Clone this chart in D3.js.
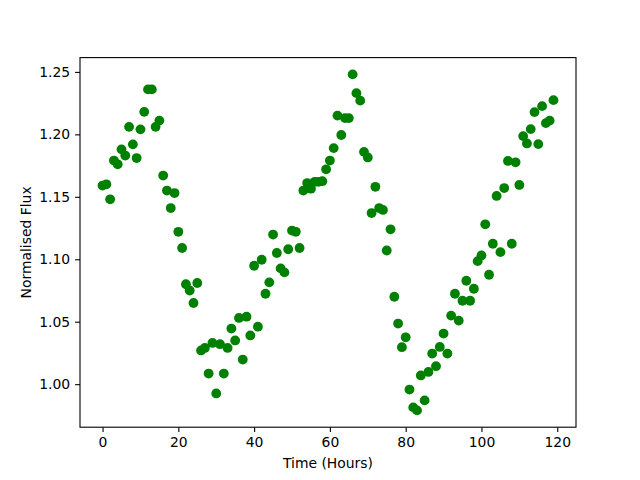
<html>
    <head>
        <title> Normalised Flux </title>
        <script src="https://d3js.org/d3.v7.min.js"></script>
        <style type="text/css">
            body { margin: 0; background: #fff; }
            .axis path,
            .axis line {
                fill: none;
                stroke: black;
                stroke-width: 1.1px;
            }
            .axis text {
                font-family: "DejaVu Sans", sans-serif;
                font-size: 13.9px;
                fill: black;
            }
            .dot {
                fill: #008000;
            }
            .label {
                font-family: "DejaVu Sans", sans-serif;
                font-size: 13.9px;
                fill: black;
            }
        </style>
    </head>
    <body>
        <script type="text/javascript">
            // time in hours (one reading per hour)
            var hours = d3.range(0, 120);
            var flux = [
                1.159, 1.160, 1.148, 1.179, 1.176, 1.188, 1.183, 1.206, 1.192, 1.181,
                1.204, 1.218, 1.236, 1.236, 1.206, 1.211, 1.167, 1.155, 1.141, 1.153,
                1.122, 1.109, 1.080, 1.075, 1.065, 1.081, 1.027, 1.029, 1.0085, 1.033,
                0.9926, 1.032, 1.0085, 1.029, 1.0445, 1.035, 1.053, 1.0197, 1.054, 1.039,
                1.0948, 1.046, 1.0996, 1.0724, 1.0815, 1.1198, 1.105, 1.0927, 1.0895, 1.108,
                1.123, 1.122, 1.109, 1.155, 1.161, 1.1565, 1.162, 1.162, 1.1625, 1.172,
                1.179, 1.189, 1.215, 1.1995, 1.213, 1.213, 1.248, 1.233, 1.227, 1.186,
                1.1815, 1.137, 1.158, 1.141, 1.1395, 1.107, 1.124, 1.070, 1.0485, 1.0296,
                1.0375, 0.9957, 0.9814, 0.979, 1.007, 0.987, 1.0098, 1.0245, 1.0144, 1.0298,
                1.0405, 1.0245, 1.0549, 1.0724, 1.0509, 1.0668, 1.0828, 1.0668, 1.0764, 1.0985,
                1.103, 1.128, 1.0876, 1.1124, 1.1507, 1.1057, 1.157, 1.1787, 1.1124, 1.1776,
                1.1595, 1.1986, 1.1927, 1.2042, 1.2178, 1.1922, 1.2226, 1.209, 1.211, 1.2274
            ];
            var xticks = [0, 20, 40, 60, 80, 100, 120];
            var yticks = [1.00, 1.05, 1.10, 1.15, 1.20, 1.25];

            var data = hours.map(function(t, i) { return {t: t, f: flux[i]}; });

            var w = 640, h = 480;
            // plot box (window.top is reserved, so p-prefixed names)
            var pLeft = 80, pRight = 576, pTop = 57.6, pBottom = 427.2;

            // matplotlib style 5% margins
            var xmin = d3.min(hours), xmax = d3.max(hours);
            var ymin = d3.min(flux), ymax = d3.max(flux);
            var xpad = (xmax - xmin) * 0.05, ypad = (ymax - ymin) * 0.05;

            var xscale = d3.scaleLinear()
                .domain([xmin - xpad, xmax + xpad])
                .range([pLeft, pRight]);
            var yscale = d3.scaleLinear()
                .domain([ymin - ypad, ymax + ypad])
                .range([pBottom, pTop]);

            var svg = d3.select('body')
                .append('svg')
                .attr('width', w)
                .attr('height', h);

            svg.selectAll('.dot')
                .data(data)
                .enter()
                .append('circle')
                .attr('class', 'dot')
                .attr('cx', function(d) { return xscale(d.t); })
                .attr('cy', function(d) { return yscale(d.f); })
                .attr('r', 4.9);

            var xAxis = d3.axisBottom(xscale)
                .tickValues(xticks)
                .tickFormat(d3.format('d'))
                .tickSizeInner(4.9)
                .tickSizeOuter(0)
                .tickPadding(4.9);
            svg.append('g')
                .attr('class', 'axis')
                .attr('transform', 'translate(0,' + pBottom + ')')
                .call(xAxis);

            var yAxis = d3.axisLeft(yscale)
                .tickValues(yticks)
                .tickFormat(d3.format('.2f'))
                .tickSizeInner(4.9)
                .tickSizeOuter(0)
                .tickPadding(4.9);
            svg.append('g')
                .attr('class', 'axis')
                .attr('transform', 'translate(' + pLeft + ',0)')
                .call(yAxis);

            svg.selectAll('.axis .domain').remove();

            // frame round the plot area
            svg.append('rect')
                .attr('x', pLeft)
                .attr('y', pTop)
                .attr('width', pRight - pLeft)
                .attr('height', pBottom - pTop)
                .attr('fill', 'none')
                .attr('stroke', 'black')
                .attr('stroke-width', 1.1);

            svg.append('text')
                .attr('class', 'label')
                .attr('x', (pLeft + pRight) / 2)
                .attr('y', 468)
                .attr('text-anchor', 'middle')
                .text('Time (Hours)');

            svg.append('text')
                .attr('class', 'label')
                .attr('transform', 'translate(31,' + ((pTop + pBottom) / 2) + ') rotate(-90)')
                .attr('text-anchor', 'middle')
                .text('Normalised Flux');
        </script>
    </body>
</html>
